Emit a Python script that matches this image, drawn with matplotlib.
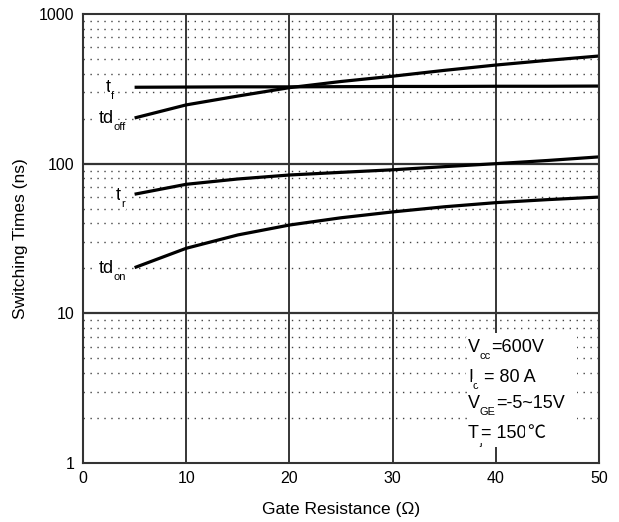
import matplotlib
matplotlib.use("Agg")
import matplotlib.pyplot as plt
import matplotlib.patches as mpatches
from matplotlib.ticker import FixedLocator, FixedFormatter, NullFormatter

plt.rcParams['font.family'] = ['Liberation Sans', 'Noto Sans CJK SC', 'DejaVu Sans']

# Data
rg = [5, 10, 15, 20, 25, 30, 35, 40, 45, 50]
t_f = [324, 325, 326, 326, 327, 328, 328, 329, 329, 330]
td_off = [202, 247, 283, 322, 354, 384, 420, 456, 490, 524]
t_r = [62.5, 72.8, 79, 84, 87.5, 91, 95.5, 100, 105, 111]
td_on = [20.2, 27.2, 33.4, 38.9, 43.5, 47.6, 51.5, 54.9, 57.5, 59.8]

x_ticks = [0, 10, 20, 30, 40, 50]
y_ticks = [1, 10, 100, 1000]
y_tick_labels = ['1', '10', '100', '1000']

fig = plt.figure(figsize=(6.19, 5.22), dpi=100)
ax = fig.add_axes([83/619, 1-463/522, (599-83)/619, (463-14)/522])
ax.set_yscale('log')
ax.set_xlim(0, 50)
ax.set_ylim(1, 1000)

ax.xaxis.set_major_locator(FixedLocator(x_ticks))
ax.yaxis.set_major_locator(FixedLocator(y_ticks))
ax.yaxis.set_major_formatter(FixedFormatter(y_tick_labels))
minor = [m * 10**e for e in range(0, 3) for m in range(2, 10)]
ax.yaxis.set_minor_locator(FixedLocator(minor))
ax.yaxis.set_minor_formatter(NullFormatter())
ax.tick_params(which='both', length=0, labelsize=11.5, pad=6)

# grid
for xv in x_ticks[1:-1]:
    ax.axvline(xv, color='black', lw=1.1, zorder=1)
for yv in [10, 100]:
    ax.axhline(yv, color='#333333', lw=1.6, zorder=1)
for yv in minor:
    ax.axhline(yv, color='#444444', lw=1.0, linestyle=(0, (1, 4)), zorder=1)

for s in ax.spines.values():
    s.set_linewidth(1.5)
    s.set_color('#333333')

for series in (t_f, td_off, t_r, td_on):
    ax.plot(rg, series, color='black', lw=2.3, zorder=2, solid_capstyle='butt')

ax.set_xlabel('Gate Resistance (Ω)', fontsize=12.5, labelpad=11)
ax.set_ylabel('Switching Times (ns)', fontsize=12.5, labelpad=8)


def rich(x, y, parts, size=13, subsize=8, subdrop=5):
    """parts: list of (text, is_sub)."""
    prev = None
    for s, sub in parts:
        fs = subsize if sub else size
        off = -subdrop if sub else 0
        if prev is None:
            xy, xyc = (x, y), 'data'
        else:
            xy, xyc = (1, y), (prev, 'data')
        t = ax.annotate(s, xy=xy, xycoords=xyc, xytext=(0, off),
                        textcoords='offset points', fontsize=fs,
                        ha='left', va='baseline', zorder=4,
                        bbox=dict(facecolor='white', edgecolor='none', pad=1))
        prev = t


# curve labels
rich(2.25, 300, [('t', False), ('f', True)])
rich(1.5, 188, [('td', False), ('off', True)])
rich(3.2, 57, [('t', False), ('r', True)])
rich(1.5, 18.7, [('td', False), ('on', True)])

# condition box
rect = mpatches.Rectangle(((467-83)/516, (463-447)/449), (577-467)/516, (447-333)/449,
                          transform=ax.transAxes, facecolor='white', edgecolor='none', zorder=3)
ax.add_patch(rect)
rich(37.3, 5.55, [('V', False), ('cc', True), ('=600V', False)])
rich(37.3, 3.5, [('I', False), ('c', True), (' = 80 A', False)])
rich(37.3, 2.32, [('V', False), ('GE', True), ('=-5~15V', False)])
rich(37.3, 1.47, [('T', False), ('j', True), ('= 150', False), ('℃', False)])

fig.savefig('out.png', dpi=100)
